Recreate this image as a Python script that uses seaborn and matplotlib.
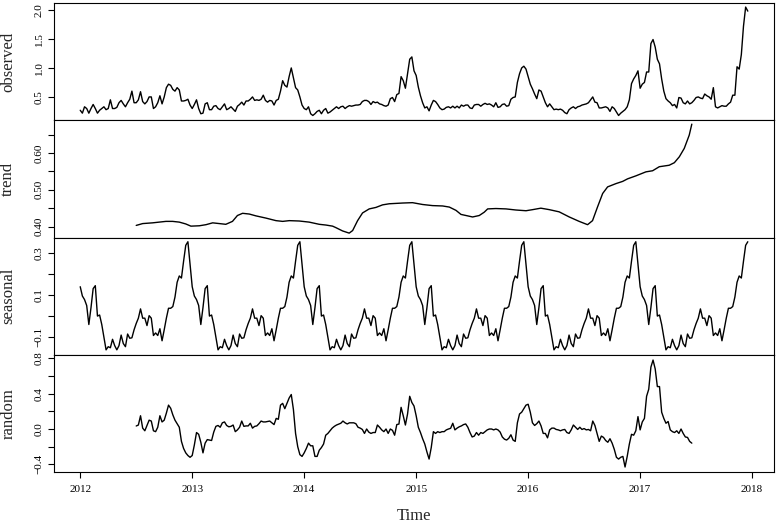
import numpy as np
import pandas as pd
import matplotlib
matplotlib.use("Agg")
import matplotlib.pyplot as plt
import seaborn as sns

# ---------------- data (weekly series, frequency 52, starting 2012) ----------------
FREQ = 52
START_YEAR = 2012

observed = [
    0.27, 0.22, 0.33, 0.30, 0.22, 0.30, 0.37, 0.30, 0.22, 0.27,
    0.30, 0.33, 0.28, 0.30, 0.45, 0.30, 0.30, 0.32, 0.40, 0.44,
    0.38, 0.33, 0.40, 0.46, 0.60, 0.40, 0.40, 0.45, 0.59, 0.42,
    0.38, 0.42, 0.50, 0.50, 0.30, 0.33, 0.40, 0.52, 0.38, 0.50,
    0.66, 0.72, 0.70, 0.63, 0.60, 0.66, 0.62, 0.43, 0.43, 0.44,
    0.46, 0.36, 0.30, 0.37, 0.45, 0.30, 0.21, 0.22, 0.38, 0.40,
    0.28, 0.28, 0.34, 0.35, 0.30, 0.28, 0.33, 0.38, 0.28, 0.30,
    0.33, 0.29, 0.25, 0.34, 0.37, 0.41, 0.36, 0.43, 0.43, 0.46,
    0.50, 0.44, 0.45, 0.44, 0.46, 0.53, 0.44, 0.41, 0.44, 0.43,
    0.36, 0.44, 0.46, 0.60, 0.78, 0.70, 0.67, 0.85, 1.00, 0.83,
    0.66, 0.62, 0.50, 0.36, 0.30, 0.28, 0.33, 0.21, 0.18, 0.21,
    0.25, 0.27, 0.21, 0.27, 0.30, 0.22, 0.24, 0.27, 0.30, 0.33,
    0.30, 0.33, 0.34, 0.30, 0.33, 0.35, 0.34, 0.35, 0.36, 0.36,
    0.37, 0.42, 0.44, 0.44, 0.42, 0.37, 0.42, 0.40, 0.41, 0.38,
    0.37, 0.35, 0.34, 0.36, 0.47, 0.49, 0.42, 0.54, 0.56, 0.85,
    0.78, 0.65, 0.90, 1.15, 1.19, 0.95, 0.87, 0.67, 0.52, 0.40,
    0.31, 0.33, 0.26, 0.36, 0.44, 0.42, 0.37, 0.31, 0.28, 0.29,
    0.32, 0.33, 0.31, 0.34, 0.31, 0.34, 0.31, 0.36, 0.34, 0.36,
    0.36, 0.31, 0.30, 0.36, 0.37, 0.37, 0.34, 0.37, 0.39, 0.37,
    0.38, 0.36, 0.33, 0.40, 0.32, 0.33, 0.37, 0.38, 0.34, 0.35,
    0.46, 0.49, 0.50, 0.75, 0.90, 1.00, 1.03, 0.98, 0.85, 0.72,
    0.64, 0.55, 0.47, 0.62, 0.60, 0.50, 0.40, 0.33, 0.38, 0.33,
    0.28, 0.29, 0.28, 0.29, 0.27, 0.23, 0.21, 0.28, 0.31, 0.33,
    0.30, 0.33, 0.34, 0.36, 0.37, 0.38, 0.40, 0.45, 0.50, 0.41,
    0.40, 0.31, 0.31, 0.32, 0.33, 0.31, 0.25, 0.33, 0.30, 0.24,
    0.18, 0.22, 0.25, 0.28, 0.33, 0.45, 0.73, 0.81, 0.87, 0.95,
    0.65, 0.72, 0.75, 0.93, 0.93, 1.42, 1.49, 1.36, 1.15, 1.07,
    0.81, 0.60, 0.47, 0.43, 0.40, 0.35, 0.37, 0.31, 0.49, 0.48,
    0.40, 0.38, 0.43, 0.38, 0.40, 0.44, 0.49, 0.50, 0.48, 0.47,
    0.55, 0.52, 0.50, 0.46, 0.66, 0.33, 0.31, 0.33, 0.35, 0.34,
    0.34, 0.38, 0.41, 0.53, 0.53, 1.02, 0.98, 1.23, 1.72, 2.05,
    1.98,
]

# trend: read at the weeks (index from start) where it was measured
trend_weeks = [
    26, 29, 33.6, 39.8, 42.9, 46, 49, 51.4, 55.3, 58.4,
    61.5, 64.6, 67.6, 70.7, 73, 75.4, 78.5, 81.6, 86.2, 90.9,
    94, 97.1, 101.7, 106.3, 111, 114.1, 117.2, 118.7, 121.8, 124.9,
    126.5, 128.8, 131.1, 134.2, 137.3, 140.4, 143.5, 149.7, 154.3, 159,
    163.6, 168.3, 171.4, 174.5, 176.8, 179.9, 182.2, 185.3, 187.6, 189.2,
    193, 197.7, 202.3, 207, 210.1, 213.9, 217.8, 222.4, 227.1, 231.7,
    235.6, 237.9, 240.2, 242.6, 244.9, 248.8, 251.9, 254.2, 258, 262.7,
    265.8, 268.9, 273.5, 275.9, 278.2, 280.5, 282.8, 284,
]
trend_values = [
    0.403, 0.408, 0.410, 0.414, 0.414, 0.412, 0.407, 0.401, 0.402, 0.405,
    0.410, 0.408, 0.406, 0.414, 0.430, 0.436, 0.434, 0.429, 0.423, 0.416,
    0.414, 0.416, 0.415, 0.412, 0.406, 0.404, 0.401, 0.397, 0.388, 0.382,
    0.389, 0.416, 0.437, 0.448, 0.452, 0.459, 0.462, 0.464, 0.465, 0.460,
    0.457, 0.456, 0.453, 0.444, 0.433, 0.429, 0.426, 0.430, 0.439, 0.448,
    0.449, 0.448, 0.445, 0.443, 0.446, 0.450, 0.446, 0.440, 0.426, 0.414,
    0.405, 0.416, 0.453, 0.490, 0.508, 0.517, 0.523, 0.530, 0.538, 0.549,
    0.552, 0.563, 0.567, 0.574, 0.590, 0.613, 0.649, 0.679,
]

# one seasonal period (52 weekly figures); the component repeats every year
seasonal_period = [
    0.139, 0.095, 0.078, 0.050, -0.040, 0.040, 0.130, 0.144, 0.000, 0.005,
    -0.040, -0.100, -0.160, -0.145, -0.150, -0.110, -0.140, -0.160, -0.140, -0.090,
    -0.130, -0.145, -0.085, -0.105, -0.103, -0.065, -0.035, -0.010, 0.034, -0.010,
    -0.010, -0.045, 0.002, -0.010, -0.092, -0.080, -0.092, -0.060, -0.117, -0.065,
    -0.010, 0.037, 0.037, 0.045, 0.090, 0.160, 0.190, 0.180, 0.260, 0.335,
    0.352, 0.245,
]

random_start_week = 26
random_values = [
    0.034, 0.045, 0.15, 0.01, -0.02, 0.04, 0.10, 0.09, -0.02, -0.03,
    0.02, 0.15, 0.08, 0.10, 0.18, 0.27, 0.235, 0.16, 0.10, 0.06,
    0.02, -0.14, -0.22, -0.27, -0.30, -0.32, -0.30, -0.18, -0.04, -0.06,
    -0.15, -0.27, -0.16, -0.12, -0.125, -0.13, -0.035, 0.03, 0.04, 0.02,
    0.07, 0.08, 0.04, 0.025, 0.03, 0.045, -0.03, -0.01, 0.02, 0.09,
    0.03, 0.035, 0.035, 0.065, 0.01, 0.03, 0.035, 0.06, 0.09, 0.08,
    0.08,
    0.085, 0.09, 0.07, 0.05, 0.12, 0.11, 0.27, 0.29, 0.23, 0.29,
    0.35, 0.39, 0.22, -0.05, -0.20, -0.29, -0.31, -0.27, -0.22, -0.16,
    -0.19, -0.19, -0.31, -0.31, -0.24, -0.21, -0.17, -0.07, -0.05, -0.02,
    0.01, 0.03, 0.045, 0.055, 0.065, 0.09, 0.07, 0.057, 0.07, 0.07,
    0.07, 0.06, 0.02, 0.01, -0.005, -0.05, 0.0, -0.035, -0.05, -0.04,
    -0.04, 0.045, 0.02, -0.01, -0.03, 0.0, -0.05, 0.0, -0.015, -0.07,
    0.05, 0.056, 0.245, 0.15, 0.045, 0.17, 0.37, 0.30, 0.26, 0.15,
    0.02, -0.04, -0.11, -0.17, -0.26, -0.34, -0.21, -0.03, -0.05, -0.03,
    -0.04, -0.03, -0.03, -0.01, 0.0, 0.008, 0.065, -0.01, 0.01, 0.025,
    0.035, 0.05, 0.057, 0.02, -0.04, -0.09, -0.08, -0.04, -0.07, -0.04,
    -0.05, -0.03, -0.01, 0.0, 0.0, -0.01, 0.0, -0.01, -0.035, -0.09,
    -0.115, -0.125, -0.105,
    -0.065, -0.125, -0.14, 0.07, 0.17, 0.19, 0.23, 0.27, 0.28, 0.19,
    0.07, 0.04, 0.06, 0.09, 0.035, -0.05, -0.05, -0.10, -0.01, 0.01,
    0.01, -0.005, -0.01, -0.02, -0.01, -0.005, -0.04, -0.05, -0.01, 0.045,
    0.02, -0.005, 0.02, -0.005, 0.005, -0.01, -0.005, -0.02, 0.09, 0.04,
    -0.05, -0.14, -0.08, -0.095, -0.13, -0.15, -0.11, -0.16, -0.23, -0.32,
    -0.34, -0.32, -0.31, -0.43, -0.31, -0.17, -0.06, -0.07, -0.02, 0.14,
    -0.01, 0.08, 0.12, 0.37, 0.45, 0.70, 0.78, 0.68, 0.48, 0.48,
    0.19, 0.12, 0.065, 0.085, -0.01, -0.03, -0.04, -0.02, -0.05, 0.0,
    -0.05, -0.09, -0.095, -0.14, -0.16,
]

panel_names = ["observed", "trend", "seasonal", "random"]
year_ticks = [2012, 2013, 2014, 2015, 2016, 2017, 2018]

# axis ticks / labels (R style: some ticks unlabelled)
obs_ticks = [0.5, 1.0, 1.5, 2.0]
obs_labels = ["0.5", "1.0", "1.5", "2.0"]
trend_ticks = [0.40, 0.45, 0.50, 0.55, 0.60, 0.65]
trend_labels = ["0.40", "", "0.50", "", "0.60", ""]
seas_ticks = [-0.1, 0.0, 0.1, 0.2, 0.3]
seas_labels = ["\u22120.1", "", "0.1", "", "0.3"]
rand_ticks = [-0.4, -0.2, 0.0, 0.2, 0.4, 0.6, 0.8]
rand_labels = ["\u22120.4", "", "0.0", "", "0.4", "", "0.8"]

# ---------------- build tables ----------------
n = len(observed)
t_obs = START_YEAR + np.arange(n) / FREQ
df_obs = pd.DataFrame({"Time": t_obs, "value": observed})
df_trend = pd.DataFrame({"Time": START_YEAR + np.array(trend_weeks) / FREQ,
                         "value": trend_values})
reps = int(np.ceil(n / len(seasonal_period)))
df_seas = pd.DataFrame({"Time": t_obs,
                        "value": np.tile(seasonal_period, reps)[:n]})
df_rand = pd.DataFrame({"Time": START_YEAR + (random_start_week + np.arange(len(random_values))) / FREQ,
                        "value": random_values})

frames = [df_obs, df_trend, df_seas, df_rand]
ylims = [(0.10, 2.125), (0.370, 0.690), (-0.184, 0.372), (-0.49, 0.838)]
ticks = [(obs_ticks, obs_labels), (trend_ticks, trend_labels),
         (seas_ticks, seas_labels), (rand_ticks, rand_labels)]

# ---------------- style ----------------
sns.set_style("ticks")
plt.rcParams["font.family"] = ["Liberation Serif", "DejaVu Serif"]
plt.rcParams["axes.edgecolor"] = "black"
plt.rcParams["axes.linewidth"] = 0.8

fig, axes = plt.subplots(4, 1, sharex=True, figsize=(7.78, 5.23), dpi=100)
fig.subplots_adjust(left=0.0688, right=0.9955, top=0.9948, bottom=0.0969, hspace=0)

span = (n - 1) / FREQ
xlim = (START_YEAR - 0.04 * span, START_YEAR + span + 0.04 * span)

for ax, df, name, yl, (tk, tl) in zip(axes, frames, panel_names, ylims, ticks):
    sns.lineplot(data=df, x="Time", y="value", ax=ax, color="black",
                 linewidth=1.0, estimator=None, sort=False)
    ax.set_xlim(*xlim)
    ax.set_ylim(*yl)
    ax.set_yticks(tk)
    ax.set_yticklabels(tl)
    for s in ax.spines.values():
        s.set_visible(True)
        s.set_color("black")
        s.set_linewidth(0.8)
    ax.tick_params(axis="y", direction="out", length=4, width=0.8,
                   labelsize=8, pad=3, colors="black")
    for lab in ax.get_yticklabels():
        lab.set_rotation(90)
        lab.set_va("center")
        lab.set_ha("right")
    ax.set_ylabel(name, fontsize=12, va="center")
    ax.yaxis.set_label_coords(-0.0627, 0.5)
    ax.set_xlabel("")
    ax.grid(False)
    ax.tick_params(axis="x", bottom=False, labelbottom=False)

bottom = axes[-1]
bottom.set_xticks(year_ticks)
bottom.set_xticklabels([str(y) for y in year_ticks])
bottom.tick_params(axis="x", bottom=True, labelbottom=True, direction="out",
                   length=4.3, width=0.8, labelsize=8, pad=5, colors="black")
bottom.set_xlabel("Time", fontsize=12, va="center")
bottom.xaxis.set_label_coords(0.5, -0.372)

fig.savefig("out.png", dpi=100, facecolor="white")
